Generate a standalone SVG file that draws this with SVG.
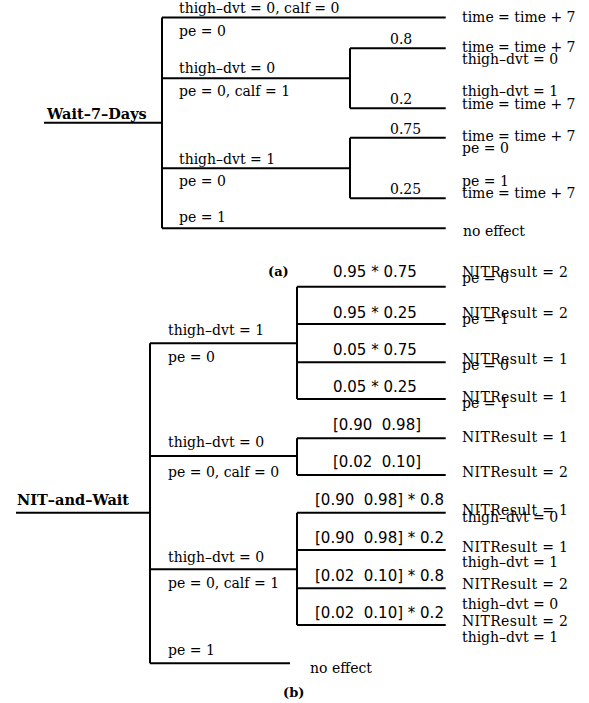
<svg xmlns="http://www.w3.org/2000/svg" width="589" height="703" viewBox="0 0 589 703">
<style>
text{font-family:"DejaVu Serif","Liberation Serif",serif;font-size:14px;fill:#000}
.b{font-weight:bold;font-size:14.5px}
.s{font-family:"DejaVu Sans","Liberation Sans",sans-serif;font-size:15px}
.p{font-size:14px}
.c line,.c polyline{stroke:#000;stroke-width:2;fill:none}
.pre{white-space:pre}
</style>
<rect width="589" height="703" fill="#fff"/>
<g class="c" id="connectors">
<!-- (a) -->
<line x1="44" y1="122.7" x2="162" y2="122.7"/>
<line x1="162" y1="17.5" x2="162" y2="228.3"/>
<line x1="162" y1="17.5" x2="445.7" y2="17.5"/>
<line x1="162" y1="78.3" x2="350" y2="78.3"/>
<line x1="162" y1="168.3" x2="350" y2="168.3"/>
<line x1="162" y1="228.3" x2="445.7" y2="228.3"/>
<line x1="350" y1="48.3" x2="350" y2="108.3"/>
<line x1="350" y1="48.3" x2="445.7" y2="48.3"/>
<line x1="350" y1="108.3" x2="445.7" y2="108.3"/>
<line x1="350" y1="137.7" x2="350" y2="198.3"/>
<line x1="350" y1="137.7" x2="445.7" y2="137.7"/>
<line x1="350" y1="198.3" x2="445.7" y2="198.3"/>
<!-- (b) -->
<line x1="16" y1="512.7" x2="150" y2="512.7"/>
<line x1="150" y1="343.3" x2="150" y2="663.3"/>
<line x1="150" y1="343.3" x2="297" y2="343.3"/>
<line x1="150" y1="456" x2="297" y2="456"/>
<line x1="150" y1="569.3" x2="297" y2="569.3"/>
<line x1="150" y1="663.3" x2="290" y2="663.3"/>
<line x1="297" y1="286.7" x2="297" y2="399"/>
<line x1="297" y1="286.7" x2="445.7" y2="286.7"/>
<line x1="297" y1="324" x2="445.7" y2="324"/>
<line x1="297" y1="362.3" x2="445.7" y2="362.3"/>
<line x1="297" y1="399" x2="445.7" y2="399"/>
<line x1="297" y1="438.3" x2="297" y2="475"/>
<line x1="297" y1="438.3" x2="445.7" y2="438.3"/>
<line x1="297" y1="475" x2="445.7" y2="475"/>
<line x1="297" y1="512.7" x2="297" y2="625"/>
<line x1="297" y1="512.7" x2="445.7" y2="512.7"/>
<line x1="297" y1="550" x2="445.7" y2="550"/>
<line x1="297" y1="588.3" x2="445.7" y2="588.3"/>
<line x1="297" y1="625" x2="445.7" y2="625"/>
</g>

<!-- ===== (a) ===== -->
<g id="a-root"><text class="b" x="47" y="119">Wait–7–Days</text></g>
<g id="a-br1">
<text x="179" y="13">thigh–dvt = 0, calf = 0</text>
<text x="179" y="36">pe = 0</text>
</g>
<g id="a-br2">
<text x="179" y="73.3">thigh–dvt = 0</text>
<text x="179" y="95.5">pe = 0, calf = 1</text>
</g>
<g id="a-br3">
<text x="179" y="164">thigh–dvt = 1</text>
<text x="179" y="185.5">pe = 0</text>
</g>
<g id="a-br4"><text x="179" y="222">pe = 1</text></g>
<g id="a-p08"><text x="390" y="44">0.8</text></g>
<g id="a-p02"><text x="390" y="104">0.2</text></g>
<g id="a-p075"><text x="390" y="134">0.75</text></g>
<g id="a-p025"><text x="390" y="194">0.25</text></g>
<g id="a-out1"><text x="462" y="22">time = time + 7</text></g>
<g id="a-out2"><text x="462" y="51.5">time = time + 7</text><text x="462" y="63.7">thigh–dvt = 0</text></g>
<g id="a-out3"><text x="462" y="96">thigh–dvt = 1</text><text x="462" y="108.5">time = time + 7</text></g>
<g id="a-out4"><text x="462" y="141">time = time + 7</text><text x="462" y="153">pe = 0</text></g>
<g id="a-out5"><text x="462" y="185.5">pe = 1</text><text x="462" y="198">time = time + 7</text></g>
<g id="a-out6"><text x="463" y="235.5">no effect</text></g>
<g id="a-caption"><text class="b" x="268" y="276" style="font-size:13px">(a)</text></g>

<!-- ===== (b) ===== -->
<g id="b-root"><text class="b" x="17" y="505">NIT–and–Wait</text></g>
<g id="b-br1">
<text x="168" y="335">thigh–dvt = 1</text>
<text x="168" y="361.7">pe = 0</text>
</g>
<g id="b-br2">
<text x="168" y="447.3">thigh–dvt = 0</text>
<text x="168" y="476.7">pe = 0, calf = 0</text>
</g>
<g id="b-br3">
<text x="168" y="561.7">thigh–dvt = 0</text>
<text x="168" y="588.3">pe = 0, calf = 1</text>
</g>
<g id="b-br4"><text x="168" y="655">pe = 1</text></g>

<g id="b-p1"><text class="s" x="333" y="276.7">0.95 * 0.75</text></g>
<g id="b-p2"><text class="s" x="333" y="318.3">0.95 * 0.25</text></g>
<g id="b-p3"><text class="s" x="333" y="355">0.05 * 0.75</text></g>
<g id="b-p4"><text class="s" x="333" y="391.7">0.05 * 0.25</text></g>
<g id="b-p5"><text class="s pre" x="333" y="430">[0.90  0.98]</text></g>
<g id="b-p6"><text class="s pre" x="333" y="466.7">[0.02  0.10]</text></g>
<g id="b-p7"><text class="s pre" x="315" y="505">[0.90  0.98] * 0.8</text></g>
<g id="b-p8"><text class="s pre" x="315" y="542.7">[0.90  0.98] * 0.2</text></g>
<g id="b-p9"><text class="s pre" x="315" y="580.7">[0.02  0.10] * 0.8</text></g>
<g id="b-p10"><text class="s pre" x="315" y="617.7">[0.02  0.10] * 0.2</text></g>

<g id="b-out1"><text x="462" y="277.3" textLength="106">NITResult = 2</text><text x="462" y="283.3">pe = 0</text></g>
<g id="b-out2"><text x="462" y="318.3" textLength="106">NITResult = 2</text><text x="462" y="324">pe = 1</text></g>
<g id="b-out3"><text x="462" y="364" textLength="106">NITResult = 1</text><text x="462" y="370">pe = 0</text></g>
<g id="b-out4"><text x="462" y="402.3" textLength="106">NITResult = 1</text><text x="462" y="408.3">pe = 1</text></g>
<g id="b-out5"><text x="462" y="441.7" textLength="106">NITResult = 1</text></g>
<g id="b-out6"><text x="462" y="477" textLength="106">NITResult = 2</text></g>
<g id="b-out7"><text x="462" y="515" textLength="106">NITResult = 1</text><text x="462" y="521.7">thigh–dvt = 0</text></g>
<g id="b-out8"><text x="462" y="551.7" textLength="106">NITResult = 1</text><text x="462" y="566.7">thigh–dvt = 1</text></g>
<g id="b-out9"><text x="462" y="589.3" textLength="106">NITResult = 2</text></g>
<g id="b-out10"><text x="462" y="609.3">thigh–dvt = 0</text><text x="462" y="626" textLength="106">NITResult = 2</text><text x="462" y="641.7">thigh–dvt = 1</text></g>
<g id="b-out11"><text x="310" y="673.3">no effect</text></g>
<g id="b-caption"><text class="b" x="283" y="697" style="font-size:13px">(b)</text></g>
</svg>
